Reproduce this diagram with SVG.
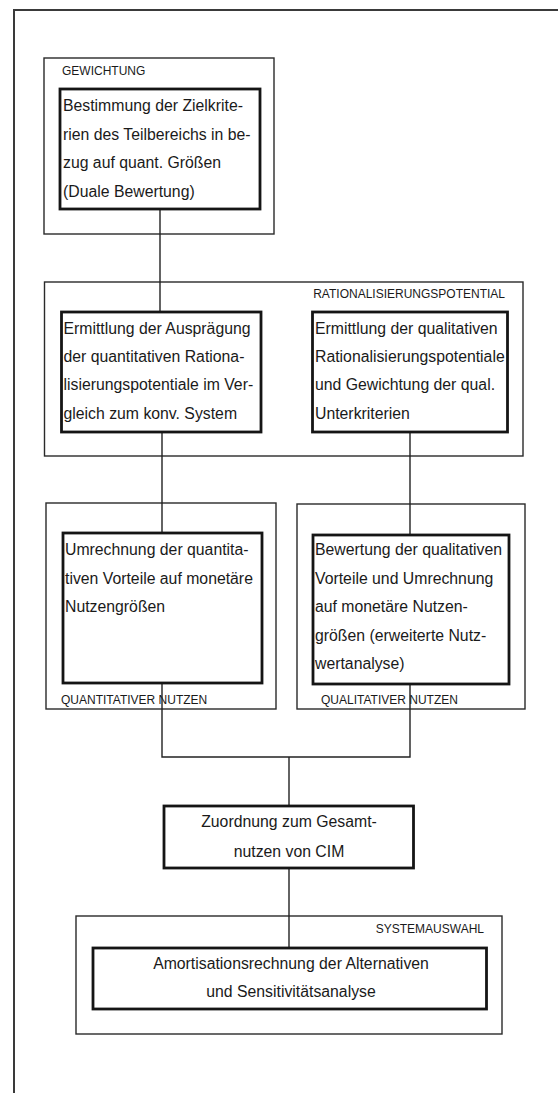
<svg xmlns="http://www.w3.org/2000/svg" width="558" height="1093" viewBox="0 0 558 1093">
<style>
.frame{fill:none;stroke:#3a3a3a;stroke-width:2}
.outer{fill:none;stroke:#2a2a2a;stroke-width:1.4}
.inner{fill:#fff;stroke:#151515;stroke-width:2.8}
.conn{fill:none;stroke:#222;stroke-width:1.4}
.t{font-family:"Liberation Sans",Arial,sans-serif;font-size:15.8px;fill:#1a1a1a}
.c{text-anchor:middle}
.lbl{font-family:"Liberation Sans",Arial,sans-serif;font-size:12px;fill:#1a1a1a}
.end{text-anchor:end}
</style>
<rect width="558" height="1093" fill="#fff"/>
<path class="frame" d="M14,1093 V10 H558"/>

<g id="gewichtung">
<rect class="outer" x="44" y="58" width="230" height="176"/>
<text class="lbl" x="62" y="75">GEWICHTUNG</text>
</g>
<g id="rationalisierungspotential">
<rect class="outer" x="44.5" y="282" width="478.5" height="174"/>
<text class="lbl end" x="505" y="298">RATIONALISIERUNGSPOTENTIAL</text>
</g>
<g id="quantitativer-nutzen">
<rect class="outer" x="46" y="503" width="230" height="206"/>
</g>
<g id="qualitativer-nutzen">
<rect class="outer" x="297" y="504" width="228" height="205"/>
</g>
<g id="systemauswahl">
<rect class="outer" x="76" y="916" width="426" height="118"/>
<text class="lbl end" x="484" y="933">SYSTEMAUSWAHL</text>
</g>

<g id="connectors">
<path class="conn" d="M160,209 V312"/>
<path class="conn" d="M162,432 V534"/>
<path class="conn" d="M410,432 V535"/>
<path class="conn" d="M162,683 V757 H410 V684"/>
<path class="conn" d="M289,757 V806"/>
<path class="conn" d="M289,868 V948"/>
</g>

<g id="labels-nutzen">
<text class="lbl" x="61" y="704">QUANTITATIVER NUTZEN</text>
<text class="lbl" x="321" y="704">QUALITATIVER NUTZEN</text>
</g>

<g id="bestimmung">
<rect class="inner" x="60" y="89" width="200" height="120"/>
<text class="t" x="63" y="111">Bestimmung der Zielkrite-</text>
<text class="t" x="63" y="139.5">rien des Teilbereichs in be-</text>
<text class="t" x="63" y="168">zug auf quant. Größen</text>
<text class="t" x="63" y="196.5">(Duale Bewertung)</text>
</g>

<g id="ermittlung-quant">
<rect class="inner" x="61.5" y="312" width="199.5" height="120"/>
<text class="t" x="63.5" y="333.5">Ermittlung der Ausprägung</text>
<text class="t" x="63.5" y="362">der quantitativen Rationa-</text>
<text class="t" x="63.5" y="390">lisierungspotentiale im Ver-</text>
<text class="t" x="63.5" y="418.5">gleich zum konv. System</text>
</g>

<g id="ermittlung-qual">
<rect class="inner" x="312.5" y="312" width="195" height="120"/>
<text class="t" x="315" y="333.5">Ermittlung der qualitativen</text>
<text class="t" x="315" y="362">Rationalisierungspotentiale</text>
<text class="t" x="315" y="390">und Gewichtung der qual.</text>
<text class="t" x="315" y="418.5">Unterkriterien</text>
</g>

<g id="umrechnung">
<rect class="inner" x="63" y="533" width="199" height="150"/>
<text class="t" x="65" y="555">Umrechnung der quantita-</text>
<text class="t" x="65" y="583.5">tiven Vorteile auf monetäre</text>
<text class="t" x="65" y="612">Nutzengrößen</text>
</g>

<g id="bewertung">
<rect class="inner" x="313" y="535" width="196" height="149"/>
<text class="t" x="315" y="555">Bewertung der qualitativen</text>
<text class="t" x="315" y="583.5">Vorteile und Umrechnung</text>
<text class="t" x="315" y="612">auf monetäre Nutzen-</text>
<text class="t" x="315" y="640.5">größen (erweiterte Nutz-</text>
<text class="t" x="315" y="669">wertanalyse)</text>
</g>

<g id="zuordnung">
<rect class="inner" x="164" y="806" width="249.5" height="62"/>
<text class="t c" x="289" y="827">Zuordnung zum Gesamt-</text>
<text class="t c" x="289" y="857">nutzen von CIM</text>
</g>

<g id="amortisation">
<rect class="inner" x="93" y="948" width="393.5" height="61"/>
<text class="t c" x="291" y="968.5">Amortisationsrechnung der Alternativen</text>
<text class="t c" x="291" y="997">und Sensitivitätsanalyse</text>
</g>
</svg>
